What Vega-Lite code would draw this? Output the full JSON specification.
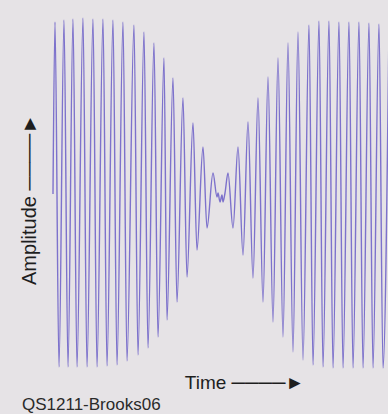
{
  "$schema": "https://vega.github.io/schema/vega-lite/v6.json",
  "width": 338,
  "height": 357,
  "autosize": "none",
  "padding": {"left": 50, "top": 15, "right": 0, "bottom": 42},
  "background": "#e6e3e6",
  "title": {
    "text": "QS1211-Brooks06",
    "orient": "bottom",
    "anchor": "start",
    "frame": "group",
    "offset": 18,
    "dx": -28,
    "baseline": "alphabetic",
    "font": "Liberation Sans",
    "fontSize": 17,
    "fontWeight": "normal",
    "color": "#2a2a2a"
  },
  "config": {
    "view": {"stroke": null},
    "axis": {
      "domain": false,
      "ticks": false,
      "labels": false,
      "grid": false,
      "titleFont": "Liberation Sans, DejaVu Sans",
      "titleFontWeight": "normal",
      "titleColor": "#1e1e1e"
    }
  },
  "data": {
    "values": [
      {"time": 3, "amplitude": 0},
      {"time": 5, "amplitude": 172},
      {"time": 9, "amplitude": -173},
      {"time": 14, "amplitude": 174},
      {"time": 18, "amplitude": -173},
      {"time": 23, "amplitude": 175},
      {"time": 27, "amplitude": -173},
      {"time": 33, "amplitude": 176},
      {"time": 37, "amplitude": -173},
      {"time": 43, "amplitude": 175},
      {"time": 47, "amplitude": -173},
      {"time": 53, "amplitude": 175},
      {"time": 57, "amplitude": -172},
      {"time": 63, "amplitude": 174},
      {"time": 67, "amplitude": -171},
      {"time": 73, "amplitude": 172},
      {"time": 77, "amplitude": -167},
      {"time": 84, "amplitude": 169},
      {"time": 88, "amplitude": -161},
      {"time": 94, "amplitude": 162},
      {"time": 98, "amplitude": -154},
      {"time": 104, "amplitude": 151},
      {"time": 108, "amplitude": -143},
      {"time": 114, "amplitude": 136},
      {"time": 117, "amplitude": -126},
      {"time": 123, "amplitude": 116},
      {"time": 127, "amplitude": -108},
      {"time": 133, "amplitude": 96},
      {"time": 137, "amplitude": -83},
      {"time": 143, "amplitude": 71},
      {"time": 147, "amplitude": -56},
      {"time": 153, "amplitude": 47},
      {"time": 157, "amplitude": -34},
      {"time": 163, "amplitude": 21},
      {"time": 167, "amplitude": -3},
      {"time": 168, "amplitude": 1},
      {"time": 170, "amplitude": -8},
      {"time": 172, "amplitude": -1},
      {"time": 173, "amplitude": -8},
      {"time": 175, "amplitude": 1},
      {"time": 178, "amplitude": 21},
      {"time": 183, "amplitude": -34},
      {"time": 188, "amplitude": 47},
      {"time": 193, "amplitude": -61},
      {"time": 198, "amplitude": 72},
      {"time": 203, "amplitude": -84},
      {"time": 208, "amplitude": 96},
      {"time": 213, "amplitude": -108},
      {"time": 218, "amplitude": 117},
      {"time": 223, "amplitude": -128},
      {"time": 228, "amplitude": 136},
      {"time": 233, "amplitude": -143},
      {"time": 238, "amplitude": 151},
      {"time": 243, "amplitude": -158},
      {"time": 248, "amplitude": 162},
      {"time": 253, "amplitude": -166},
      {"time": 259, "amplitude": 169},
      {"time": 263, "amplitude": -171},
      {"time": 269, "amplitude": 173},
      {"time": 273, "amplitude": -173},
      {"time": 279, "amplitude": 173},
      {"time": 283, "amplitude": -174},
      {"time": 289, "amplitude": 172},
      {"time": 293, "amplitude": -174},
      {"time": 299, "amplitude": 172},
      {"time": 303, "amplitude": -174},
      {"time": 309, "amplitude": 172},
      {"time": 313, "amplitude": -174},
      {"time": 319, "amplitude": 171},
      {"time": 323, "amplitude": -174},
      {"time": 329, "amplitude": 170},
      {"time": 333, "amplitude": -174},
      {"time": 339, "amplitude": 170}
    ]
  },
  "mark": {"type": "line", "interpolate": "monotone", "clip": true, "color": "#7165c9", "strokeWidth": 1.4, "opacity": 0.9},
  "encoding": {
    "x": {
      "field": "time",
      "type": "quantitative",
      "scale": {"domain": [0, 338], "nice": false, "zero": false},
      "axis": {"title": "Time ────►", "titleFontSize": 19, "titleX": 194, "titleY": 10, "titleAlign": "center", "titleBaseline": "middle"}
    },
    "y": {
      "field": "amplitude",
      "type": "quantitative",
      "scale": {"domain": [-178, 179], "nice": false, "zero": false},
      "axis": {"title": "Amplitude ────►", "titleFontSize": 20, "titleX": -21, "titleY": 184, "titleAngle": -90, "titleAlign": "center", "titleBaseline": "middle"}
    }
  }
}
